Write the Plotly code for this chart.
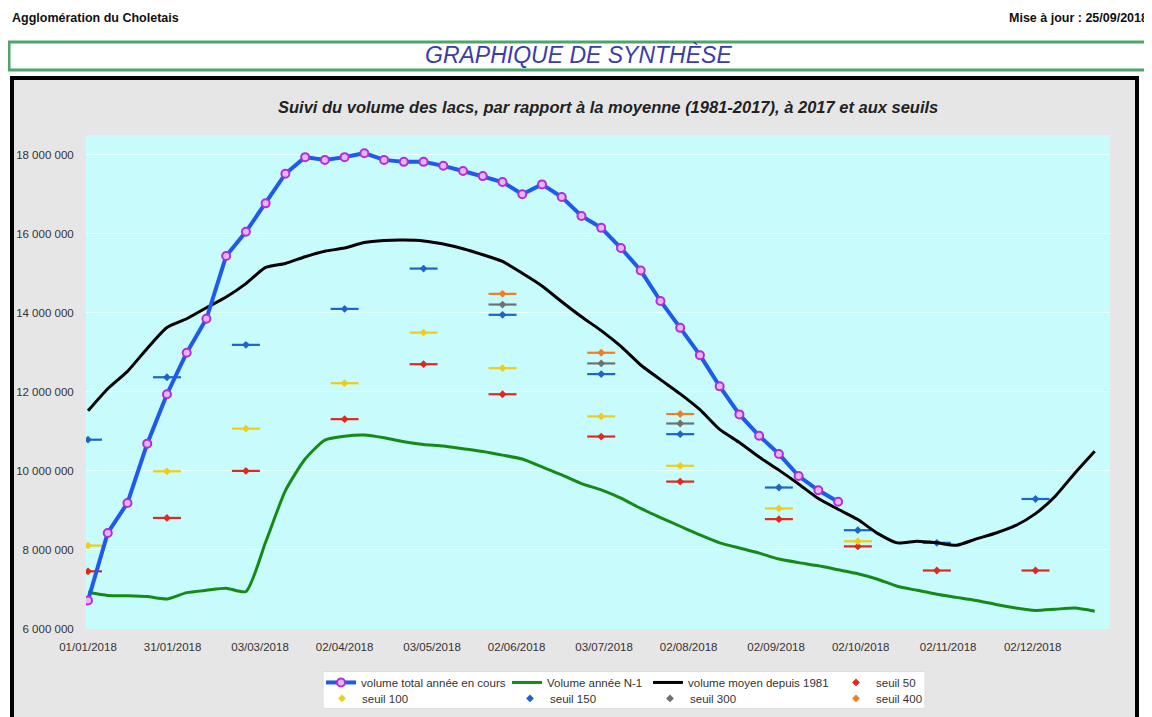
import plotly.graph_objects as go
import pandas as pd

# ---------------- data ----------------
week_dates = list(pd.date_range("2018-01-01", periods=52, freq="7D"))

volume_en_cours = [6720000, 8430000, 9190000, 10690000, 11940000, 12990000, 13850000,
                   15440000, 16050000, 16770000, 17520000, 17940000, 17870000, 17940000,
                   18040000, 17870000, 17820000, 17820000, 17720000, 17590000, 17460000,
                   17310000, 17000000, 17250000, 16930000, 16450000, 16150000, 15640000,
                   15070000, 14300000, 13620000, 12930000, 12140000, 11430000, 10890000,
                   10430000, 9870000, 9510000, 9220000]

volume_n1 = [6930000, 6850000, 6840000, 6820000, 6760000, 6920000, 6980000, 7030000,
             6950000, 8200000, 9500000, 10300000, 10780000, 10880000, 10910000, 10840000,
             10740000, 10670000, 10630000, 10560000, 10490000, 10400000, 10300000, 10100000,
             9900000, 9680000, 9520000, 9310000, 9050000, 8820000, 8600000, 8380000,
             8180000, 8050000, 7920000, 7770000, 7680000, 7600000, 7500000, 7400000,
             7260000, 7080000, 6980000, 6880000, 6800000, 6720000, 6620000, 6530000,
             6470000, 6500000, 6530000, 6450000]

volume_moyen = [11520000, 12080000, 12520000, 13100000, 13630000, 13850000, 14130000,
                14400000, 14740000, 15150000, 15250000, 15420000, 15560000, 15640000,
                15780000, 15830000, 15840000, 15820000, 15740000, 15620000, 15470000,
                15300000, 15000000, 14680000, 14280000, 13900000, 13550000, 13150000,
                12680000, 12310000, 11950000, 11550000, 11050000, 10720000, 10350000,
                10020000, 9670000, 9300000, 9030000, 8770000, 8420000, 8180000, 8220000,
                8180000, 8120000, 8280000, 8430000, 8620000, 8920000, 9360000, 9950000,
                10500000]

seuil_dates_all = ["2018-01-01", "2018-01-29", "2018-02-26", "2018-04-02", "2018-04-30",
                   "2018-05-28", "2018-07-02", "2018-07-30", "2018-09-03", "2018-10-01",
                   "2018-10-29", "2018-12-03"]
seuil_dates_summer = ["2018-05-28", "2018-07-02", "2018-07-30"]

seuil_50 = [7460000, 8810000, 10000000, 11310000, 12700000, 11940000, 10870000, 9730000,
            8780000, 8090000, 7480000, 7480000]
seuil_100 = [8110000, 9990000, 11070000, 12220000, 13500000, 12600000, 11380000, 10130000,
             9050000, 8220000]
seuil_150 = [10790000, 12370000, 13190000, 14100000, 15120000, 13950000, 12450000, 10930000,
             9580000, 8500000, 8180000, 9290000]
seuil_300 = [14210000, 12720000, 11200000]
seuil_400 = [14480000, 12990000, 11440000]

x_tick_labels = ["01/01/2018", "31/01/2018", "03/03/2018", "02/04/2018", "03/05/2018",
                 "02/06/2018", "03/07/2018", "02/08/2018", "02/09/2018", "02/10/2018",
                 "02/11/2018", "02/12/2018"]
y_tick_values = [6000000, 8000000, 10000000, 12000000, 14000000, 16000000, 18000000]
y_tick_labels = ["6 000 000", "8 000 000", "10 000 000", "12 000 000", "14 000 000",
                 "16 000 000", "18 000 000"]

# ---------------- layout helpers (page pixel coordinates) ----------------
PAGE_OFF = 8                      # default body margin of the html page
W, H = 1152 - PAGE_OFF, 717 - PAGE_OFF
L, R, T, B = 86, 1110, 135, 629.5  # plot area in page pixels
PW, PH = R - L, B - T


def px(x):
    return (x - L) / PW


def py(y):
    return (B - y) / PH


FONT = "Liberation Sans, Arial, sans-serif"
TXT = "#333333"

fig = go.Figure()

# seuil markers (dash + diamond)
seuils = [
    ("seuil 50", seuil_dates_all, seuil_50, "#e0281e", "legend4"),
    ("seuil 100", seuil_dates_all[:len(seuil_100)], seuil_100, "#f0cc1a", "legend5"),
    ("seuil 150", seuil_dates_all, seuil_150, "#1f64c8", "legend6"),
    ("seuil 300", seuil_dates_summer, seuil_300, "#707070", "legend7"),
    ("seuil 400", seuil_dates_summer, seuil_400, "#f07d22", "legend8"),
]
for name, xs, ys, col, lg in seuils:
    fig.add_trace(go.Scatter(
        x=pd.to_datetime(xs), y=ys, mode="markers", name=name, showlegend=False,
        marker=dict(symbol="line-ew", size=20, line=dict(color=col, width=2.2)),
        hoverinfo="skip"))
    fig.add_trace(go.Scatter(
        x=pd.to_datetime(xs), y=ys, mode="markers", name=name, legend=lg,
        marker=dict(symbol="diamond", size=6, color=col, line=dict(width=0))))

fig.add_trace(go.Scatter(
    x=week_dates, y=volume_n1, mode="lines", name="Volume année N-1", legend="legend2",
    line=dict(color="#168a16", width=3, shape="spline", smoothing=0.6)))
fig.add_trace(go.Scatter(
    x=week_dates, y=volume_moyen, mode="lines", name="volume moyen depuis 1981",
    legend="legend3", line=dict(color="#000000", width=3, shape="spline", smoothing=0.6)))
fig.add_trace(go.Scatter(
    x=week_dates[:len(volume_en_cours)], y=volume_en_cours, mode="lines+markers",
    name="volume total année en cours", legend="legend",
    line=dict(color="#1f5ae8", width=4),
    marker=dict(symbol="circle", size=8, color="#e8b4f6", line=dict(color="#b030d8", width=2))))

# ---------------- shapes ----------------
shapes = [
    dict(type="rect", xref="paper", yref="paper", x0=px(12), x1=px(1137), y0=py(745), y1=py(78),
         fillcolor="#e6e6e6", line=dict(color="#000000", width=4), layer="below"),
    dict(type="rect", xref="paper", yref="paper", x0=0, x1=1, y0=0, y1=1,
         fillcolor="#c8fcfc", line=dict(width=0), layer="below"),
    dict(type="rect", xref="paper", yref="paper", x0=px(323), x1=px(925), y0=py(709), y1=py(672),
         fillcolor="#ffffff", line=dict(color="#dcdcdc", width=1), layer="below"),
    dict(type="rect", xref="paper", yref="paper", x0=px(9), x1=px(1147), y0=py(70), y1=py(42),
         fillcolor="#ffffff", line=dict(color="#4ca66c", width=3), layer="below"),
]

annotations = [
    dict(text="<b>Agglomération du Choletais</b>", x=px(10), y=py(18), xanchor="left",
         yanchor="middle", font=dict(size=12.5, color="#111111", family=FONT)),
    dict(text="<b>Mise à jour : 25/09/2018</b>", x=px(1150), y=py(18), xanchor="right",
         yanchor="middle", font=dict(size=12.5, color="#111111", family=FONT)),
    dict(text="<i>GRAPHIQUE DE SYNTHÈSE</i>", x=px(578), y=py(55), xanchor="center",
         yanchor="middle", font=dict(size=23, color="#3c3ca8", family=FONT)),
    dict(text="<b><i>Suivi du volume des lacs, par rapport à la moyenne (1981-2017), à 2017 et aux seuils</i></b>",
         x=px(608), y=py(107), xanchor="center", yanchor="middle",
         font=dict(size=16.5, color="#222222", family=FONT)),
]
for a in annotations:
    a.update(xref="paper", yref="paper", showarrow=False)


def leg(xl, yc):
    return dict(x=px(xl), y=py(yc), xanchor="left", yanchor="middle", orientation="v",
                bgcolor="rgba(0,0,0,0)", borderwidth=0,
                font=dict(size=11.5, color=TXT, family=FONT))


tick_dates = [pd.to_datetime(t, format="%d/%m/%Y") for t in x_tick_labels]

fig.update_layout(
    width=W, height=H,
    margin=dict(l=L - PAGE_OFF, r=W - (R - PAGE_OFF), t=T - PAGE_OFF, b=H - (B - PAGE_OFF),
                pad=0, autoexpand=False),
    paper_bgcolor="#ffffff", plot_bgcolor="rgba(0,0,0,0)",
    shapes=shapes, annotations=annotations,
    font=dict(family=FONT, color=TXT),
    xaxis=dict(type="date", range=["2017-12-31 07:00", "2018-12-29 10:00"],
               tickvals=tick_dates, ticktext=x_tick_labels, showgrid=False, zeroline=False,
               ticks="outside", ticklen=7, tickcolor="rgba(0,0,0,0)",
               tickfont=dict(size=11.5, color=TXT, family=FONT), showline=False),
    yaxis=dict(range=[6000000, 18500000], tickvals=y_tick_values, ticktext=y_tick_labels,
               showgrid=True, gridcolor="#e6ffff", gridwidth=1, zeroline=False,
               ticks="outside", ticklen=9, tickcolor="rgba(0,0,0,0)",
               tickfont=dict(size=11.5, color=TXT, family=FONT), showline=False),
    legend=leg(321, 683),
    legend2=leg(507, 683),
    legend3=leg(648, 683),
    legend4=leg(836, 683),
    legend5=leg(322, 699),
    legend6=leg(510, 699),
    legend7=leg(650, 699),
    legend8=leg(836, 699),
    hovermode="closest",
)

fig.write_html("out.html")
